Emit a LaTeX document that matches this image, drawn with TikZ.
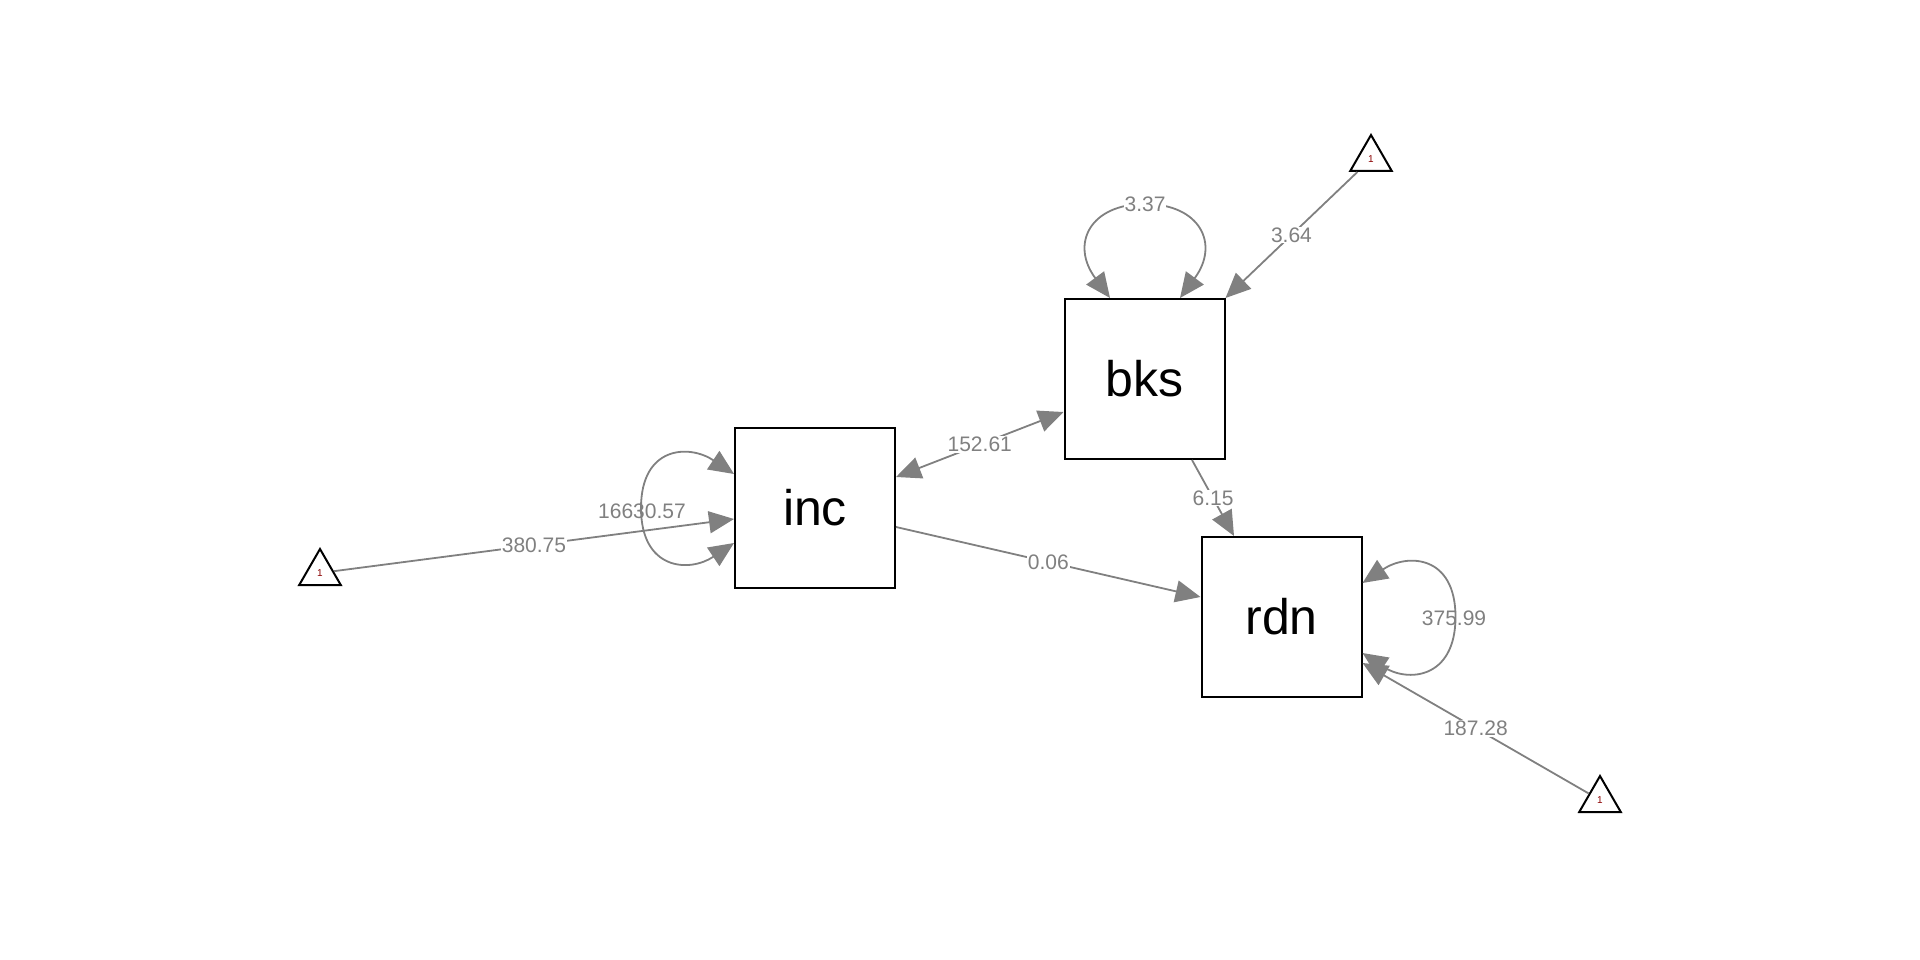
\documentclass[tikz,border=0pt]{standalone}
\usepackage{fontspec}
\setmainfont{Liberation Sans}
\usetikzlibrary{arrows.meta,shapes.geometric,calc}
\definecolor{edgegray}{RGB}{128,128,128}
\definecolor{labgray}{RGB}{128,128,128}
\definecolor{onered}{RGB}{139,0,0}
\begin{document}
\begin{tikzpicture}[x=1pt,y=-1pt,
 box/.style={draw=black,line width=2pt,fill=white,minimum size=160pt,inner sep=0pt,font=\fontsize{50}{60}\selectfont},
 tri/.style={draw=black,line width=2pt,fill=white,regular polygon,regular polygon sides=3,minimum size=48pt,inner sep=0pt,font=\fontsize{10}{11}\selectfont,text=onered},
 conn/.style={draw=edgegray,line width=1.8pt,-{Triangle[length=25pt,width=22pt]}},
 dconn/.style={conn,{Triangle[length=25pt,width=22pt]}-{Triangle[length=25pt,width=22pt]}},
 lab/.style={fill=white,inner sep=1pt,text=labgray,font=\fontsize{21}{25}\selectfont},
 labnf/.style={inner sep=1pt,text=labgray,font=\fontsize{21}{25}\selectfont}]
\useasboundingbox (0,0) rectangle (1920,960);
% nodes
\node[box] (inc) at (815,508) {inc};
\node[box] (bks) at (1144.5,379) {bks};
\node[box] (rdn) at (1281.5,617) {rdn};
\node[tri] (t1) at (320,573) {1};
\node[tri] (t2) at (1371,159) {1};
\node[tri] (t3) at (1600,800) {1};
% means
\draw[conn] (t1) -- ($(inc.west)+(0,11)$) node[lab,pos=0.5] {380.75};
\draw[conn] (t2) -- (bks.north east) node[lab,pos=0.5] {3.64};
\draw[conn] (t3) -- ($(rdn.east)+(0,46)$) node[lab,pos=0.5] {187.28};
% paths
\draw[dconn] ($(inc.east)+(0,-31)$) -- ($(bks.west)+(0,33)$) node[lab,pos=0.5] {152.61};
\draw[conn] ($(bks.south)+(47.5,0)$) -- ($(rdn.north)+(-47.5,0)$) node[lab,pos=0.5] {6.15};
\draw[conn] ($(inc.east)+(0,19)$) -- ($(rdn.west)+(0,-20)$) node[lab,pos=0.5] {0.06};
% variances
\node[labnf] (vinc) at (642,511) {16630.57};
\draw[dconn] ($(inc.west)+(0,-34)$) .. controls +(-45,-30) and +(0,-62) .. ($(inc.west)+(-93,0)$)
  .. controls +(0,62) and +(-45,30) .. ($(inc.west)+(0,35)$);
\draw[dconn] ($(bks.north)+(-34.5,0)$) .. controls +(-40,-54) and +(-55,0) .. ($(bks.north)+(0.5,-94)$)
  node[lab] (vbks) {3.37}
  .. controls +(55,0) and +(40,-54) .. ($(bks.north)+(35.5,0)$);
\node[labnf] (vrdn) at (1454,618) {375.99};
\draw[dconn] ($(rdn.east)+(0,-34)$) .. controls +(45,-30) and +(0,-62) .. ($(rdn.east)+(93,0)$)
  .. controls +(0,62) and +(45,30) .. ($(rdn.east)+(0,36)$);
\end{tikzpicture}
\end{document}
